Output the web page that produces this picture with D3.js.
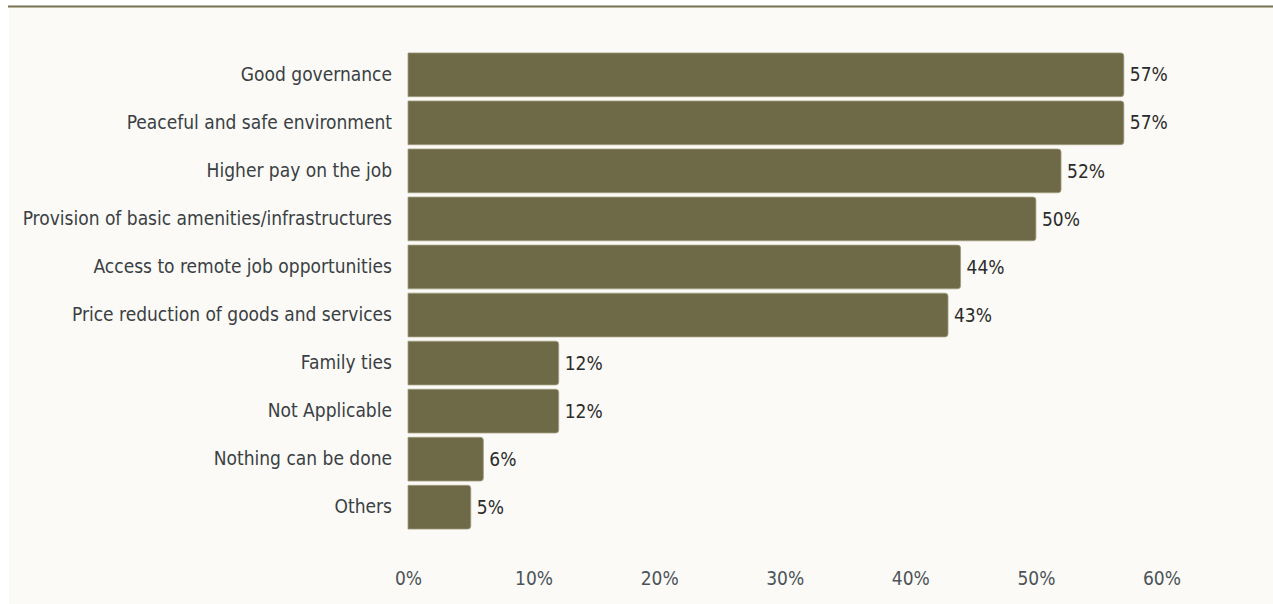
<!DOCTYPE html>
<html>
<head>
<meta charset="utf-8">
<script src="https://cdn.jsdelivr.net/npm/d3@7/dist/d3.min.js"></script>
<style>
  html, body { margin: 0; padding: 0; background: #ffffff; }
  svg { display: block; }
</style>
</head>
<body>
<svg id="chart" width="1273" height="604"></svg>
<script>
// Reasons that would encourage respondents to stay
const categories = [
  "Good governance",
  "Peaceful and safe environment",
  "Higher pay on the job",
  "Provision of basic amenities/infrastructures",
  "Access to remote job opportunities",
  "Price reduction of goods and services",
  "Family ties",
  "Not Applicable",
  "Nothing can be done",
  "Others"
];
const shares = [57, 57, 52, 50, 44, 43, 12, 12, 6, 5];
const tickValues = [0, 10, 20, 30, 40, 50, 60];

const W = 1273, H = 604;
const fontStack = "'DejaVu Sans Condensed', 'DejaVu Sans', sans-serif";
const barColor = "#6e6946";

const svg = d3.select("#chart");

// panel background and top rule
svg.append("rect").attr("x", 9).attr("y", 7).attr("width", W - 9).attr("height", H - 7)
  .attr("fill", "#fbfaf6");
svg.append("line").attr("x1", 8).attr("x2", W).attr("y1", 6.5).attr("y2", 6.5)
  .attr("stroke", "#77724f").attr("stroke-width", 2);

const x = d3.scaleLinear().domain([0, 60]).range([408, 1161.5]);
const y = d3.scaleBand().domain(categories).range([51, 531]).paddingInner(0.09).paddingOuter(0.04);

const data = categories.map((c, i) => ({ c, v: shares[i] }));

// bars with rounded right end
const r = 3;
function barPath(d) {
  const x0 = x(0), x1 = x(d.v), y0 = y(d.c), h = y.bandwidth();
  const rr = Math.min(r, (x1 - x0) / 2);
  return `M${x0},${y0}H${x1 - rr}Q${x1},${y0} ${x1},${y0 + rr}V${y0 + h - rr}Q${x1},${y0 + h} ${x1 - rr},${y0 + h}H${x0}Z`;
}
svg.append("g").selectAll("path").data(data).join("path")
  .attr("d", barPath)
  .attr("fill", barColor)
  .attr("stroke", "#a19d80")
  .attr("stroke-width", 0.8);

// value labels
svg.append("g").selectAll("text").data(data).join("text")
  .attr("x", d => x(d.v) + 6)
  .attr("y", d => y(d.c) + y.bandwidth() / 2)
  .attr("dy", "0.35em")
  .attr("font-family", fontStack)
  .attr("font-stretch", "condensed")
  .attr("font-size", 19)
  .attr("fill", "#2b2b2b")
  .text(d => d.v + "%");

// category axis
const yAxis = svg.append("g").attr("transform", `translate(${x(0) - 16},0)`)
  .call(d3.axisLeft(y).tickSize(0).tickPadding(0));
yAxis.select(".domain").remove();
yAxis.selectAll("text")
  .attr("font-family", fontStack)
  .attr("font-stretch", "condensed")
  .attr("font-size", 19)
  .attr("fill", "#3a3f44");

// value axis
const xAxis = svg.append("g").attr("transform", "translate(0,571)")
  .call(d3.axisBottom(x).tickValues(tickValues).tickFormat(d => d + "%").tickSize(0).tickPadding(0));
xAxis.select(".domain").remove();
xAxis.selectAll("text")
  .attr("font-family", fontStack)
  .attr("font-stretch", "condensed")
  .attr("font-size", 19)
  .attr("fill", "#4c5359");
</script>
</body>
</html>
